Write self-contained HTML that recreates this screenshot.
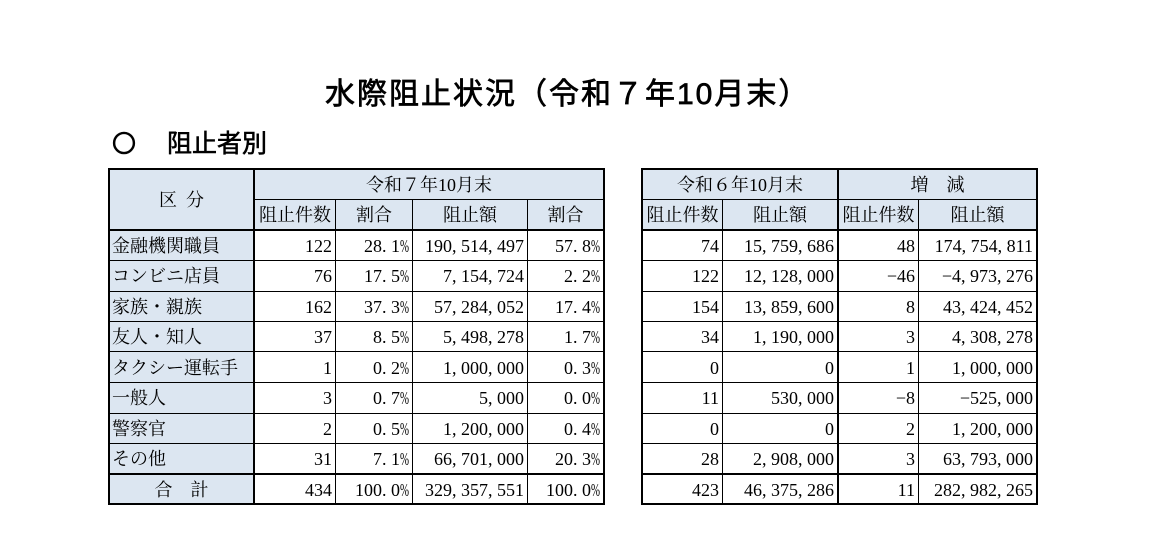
<!DOCTYPE html>
<html><head><meta charset="utf-8">
<style>
html,body{margin:0;padding:0}
body{width:1164px;height:537px;background:#fff;position:relative;overflow:hidden}
.bg{position:absolute;background:#dce6f1}
.k{position:absolute;background:#000}
.t{position:absolute;height:30px;line-height:30px;font-family:"Liberation Serif","Noto Serif CJK SC",serif;font-size:18px;color:#000;white-space:nowrap}
.r{text-align:right}
.c{text-align:center}
.l{text-align:left}
i{font-style:normal;display:inline-block;width:9px;text-align:left}
b{font-weight:normal;display:inline-block;width:9px;transform:scaleX(.6);transform-origin:left center}
.title{position:absolute;left:325px;top:80px;height:30px;line-height:30px;font-family:"Liberation Sans","Noto Sans CJK JP",sans-serif;font-size:30px;font-weight:normal;-webkit-text-stroke:0.7px #000;letter-spacing:2px;color:#000;white-space:nowrap}
.sub{position:absolute;top:132px;height:25px;line-height:25px;font-family:"Liberation Sans","Noto Sans CJK JP",sans-serif;font-size:25px;font-weight:normal;-webkit-text-stroke:0.6px #000;color:#000;white-space:nowrap}
</style></head><body>

<div class="title">水際阻止状況（令和７年10月末）</div>
<div class="sub" style="left:112px;font-size:24px">〇</div>
<div class="sub" style="left:167px">阻止者別</div>

<!-- backgrounds -->
<div class="bg" style="left:110px;top:170px;width:493px;height:59px"></div>
<div class="bg" style="left:110px;top:231px;width:143px;height:272px"></div>
<div class="bg" style="left:643px;top:170px;width:393px;height:59px"></div>

<!-- left table lines -->
<div class="k" style="left:108px;top:168px;width:497px;height:2px"></div>
<div class="k" style="left:253px;top:199px;width:352px;height:1px"></div>
<div class="k" style="left:108px;top:229px;width:497px;height:2px"></div>
<div class="k" style="left:108px;top:260px;width:497px;height:1px"></div>
<div class="k" style="left:108px;top:291px;width:497px;height:1px"></div>
<div class="k" style="left:108px;top:321px;width:497px;height:1px"></div>
<div class="k" style="left:108px;top:351px;width:497px;height:1px"></div>
<div class="k" style="left:108px;top:382px;width:497px;height:1px"></div>
<div class="k" style="left:108px;top:413px;width:497px;height:1px"></div>
<div class="k" style="left:108px;top:443px;width:497px;height:1px"></div>
<div class="k" style="left:108px;top:473px;width:497px;height:2px"></div>
<div class="k" style="left:108px;top:503px;width:497px;height:2px"></div>
<div class="k" style="left:108px;top:168px;width:2px;height:337px"></div>
<div class="k" style="left:253px;top:168px;width:2px;height:337px"></div>
<div class="k" style="left:335px;top:199px;width:1px;height:306px"></div>
<div class="k" style="left:412px;top:199px;width:1px;height:306px"></div>
<div class="k" style="left:527px;top:199px;width:1px;height:306px"></div>
<div class="k" style="left:603px;top:168px;width:2px;height:337px"></div>

<!-- right table lines -->
<div class="k" style="left:641px;top:168px;width:397px;height:2px"></div>
<div class="k" style="left:641px;top:199px;width:397px;height:1px"></div>
<div class="k" style="left:641px;top:229px;width:397px;height:2px"></div>
<div class="k" style="left:641px;top:260px;width:397px;height:1px"></div>
<div class="k" style="left:641px;top:291px;width:397px;height:1px"></div>
<div class="k" style="left:641px;top:321px;width:397px;height:1px"></div>
<div class="k" style="left:641px;top:351px;width:397px;height:1px"></div>
<div class="k" style="left:641px;top:382px;width:397px;height:1px"></div>
<div class="k" style="left:641px;top:413px;width:397px;height:1px"></div>
<div class="k" style="left:641px;top:443px;width:397px;height:1px"></div>
<div class="k" style="left:641px;top:473px;width:397px;height:2px"></div>
<div class="k" style="left:641px;top:503px;width:397px;height:2px"></div>
<div class="k" style="left:641px;top:168px;width:2px;height:337px"></div>
<div class="k" style="left:722px;top:199px;width:1px;height:306px"></div>
<div class="k" style="left:837px;top:168px;width:2px;height:337px"></div>
<div class="k" style="left:918px;top:199px;width:1px;height:306px"></div>
<div class="k" style="left:1036px;top:168px;width:2px;height:337px"></div>

<!-- headers -->
<div class="t c" style="left:110px;width:143px;top:185px">区<i> </i>分</div>
<div class="t c" style="left:255px;width:348px;top:170px">令和７年10月末</div>
<div class="t c" style="left:643px;width:194px;top:170px">令和６年10月末</div>
<div class="t c" style="left:839px;width:197px;top:170px">増　減</div>

<div class="t c" style="left:255px;width:80px;top:200px">阻止件数</div>
<div class="t c" style="left:336px;width:76px;top:200px">割合</div>
<div class="t c" style="left:413px;width:114px;top:200px">阻止額</div>
<div class="t c" style="left:528px;width:75px;top:200px">割合</div>
<div class="t c" style="left:643px;width:79px;top:200px">阻止件数</div>
<div class="t c" style="left:723px;width:114px;top:200px">阻止額</div>
<div class="t c" style="left:839px;width:79px;top:200px">阻止件数</div>
<div class="t c" style="left:919px;width:117px;top:200px">阻止額</div>

<!-- row labels -->
<div class="t l" style="left:112px;top:231px">金融機関職員</div>
<div class="t l" style="left:112px;top:261px">コンビニ店員</div>
<div class="t l" style="left:112px;top:292px">家族・親族</div>
<div class="t l" style="left:112px;top:322px">友人・知人</div>
<div class="t l" style="left:112px;top:353px">タクシー運転手</div>
<div class="t l" style="left:112px;top:383px">一般人</div>
<div class="t l" style="left:112px;top:414px">警察官</div>
<div class="t l" style="left:112px;top:444px">その他</div>
<div class="t c" style="left:110px;width:143px;top:475px">合　計</div>

<!-- row 1 -->
<div class="t r" style="left:255px;width:77px;top:231px">122</div>
<div class="t r" style="left:336px;width:73px;top:231px">28<i>.</i>1<b>%</b></div>
<div class="t r" style="left:413px;width:111px;top:231px">190<i>,</i>514<i>,</i>497</div>
<div class="t r" style="left:528px;width:72px;top:231px">57<i>.</i>8<b>%</b></div>
<div class="t r" style="left:643px;width:76px;top:231px">74</div>
<div class="t r" style="left:723px;width:111px;top:231px">15<i>,</i>759<i>,</i>686</div>
<div class="t r" style="left:839px;width:76px;top:231px">48</div>
<div class="t r" style="left:919px;width:114px;top:231px">174<i>,</i>754<i>,</i>811</div>

<!-- row 2 -->
<div class="t r" style="left:255px;width:77px;top:261px">76</div>
<div class="t r" style="left:336px;width:73px;top:261px">17<i>.</i>5<b>%</b></div>
<div class="t r" style="left:413px;width:111px;top:261px">7<i>,</i>154<i>,</i>724</div>
<div class="t r" style="left:528px;width:72px;top:261px">2<i>.</i>2<b>%</b></div>
<div class="t r" style="left:643px;width:76px;top:261px">122</div>
<div class="t r" style="left:723px;width:111px;top:261px">12<i>,</i>128<i>,</i>000</div>
<div class="t r" style="left:839px;width:76px;top:261px">−46</div>
<div class="t r" style="left:919px;width:114px;top:261px">−4<i>,</i>973<i>,</i>276</div>

<!-- row 3 -->
<div class="t r" style="left:255px;width:77px;top:292px">162</div>
<div class="t r" style="left:336px;width:73px;top:292px">37<i>.</i>3<b>%</b></div>
<div class="t r" style="left:413px;width:111px;top:292px">57<i>,</i>284<i>,</i>052</div>
<div class="t r" style="left:528px;width:72px;top:292px">17<i>.</i>4<b>%</b></div>
<div class="t r" style="left:643px;width:76px;top:292px">154</div>
<div class="t r" style="left:723px;width:111px;top:292px">13<i>,</i>859<i>,</i>600</div>
<div class="t r" style="left:839px;width:76px;top:292px">8</div>
<div class="t r" style="left:919px;width:114px;top:292px">43<i>,</i>424<i>,</i>452</div>

<!-- row 4 -->
<div class="t r" style="left:255px;width:77px;top:322px">37</div>
<div class="t r" style="left:336px;width:73px;top:322px">8<i>.</i>5<b>%</b></div>
<div class="t r" style="left:413px;width:111px;top:322px">5<i>,</i>498<i>,</i>278</div>
<div class="t r" style="left:528px;width:72px;top:322px">1<i>.</i>7<b>%</b></div>
<div class="t r" style="left:643px;width:76px;top:322px">34</div>
<div class="t r" style="left:723px;width:111px;top:322px">1<i>,</i>190<i>,</i>000</div>
<div class="t r" style="left:839px;width:76px;top:322px">3</div>
<div class="t r" style="left:919px;width:114px;top:322px">4<i>,</i>308<i>,</i>278</div>

<!-- row 5 -->
<div class="t r" style="left:255px;width:77px;top:353px">1</div>
<div class="t r" style="left:336px;width:73px;top:353px">0<i>.</i>2<b>%</b></div>
<div class="t r" style="left:413px;width:111px;top:353px">1<i>,</i>000<i>,</i>000</div>
<div class="t r" style="left:528px;width:72px;top:353px">0<i>.</i>3<b>%</b></div>
<div class="t r" style="left:643px;width:76px;top:353px">0</div>
<div class="t r" style="left:723px;width:111px;top:353px">0</div>
<div class="t r" style="left:839px;width:76px;top:353px">1</div>
<div class="t r" style="left:919px;width:114px;top:353px">1<i>,</i>000<i>,</i>000</div>

<!-- row 6 -->
<div class="t r" style="left:255px;width:77px;top:383px">3</div>
<div class="t r" style="left:336px;width:73px;top:383px">0<i>.</i>7<b>%</b></div>
<div class="t r" style="left:413px;width:111px;top:383px">5<i>,</i>000</div>
<div class="t r" style="left:528px;width:72px;top:383px">0<i>.</i>0<b>%</b></div>
<div class="t r" style="left:643px;width:76px;top:383px">11</div>
<div class="t r" style="left:723px;width:111px;top:383px">530<i>,</i>000</div>
<div class="t r" style="left:839px;width:76px;top:383px">−8</div>
<div class="t r" style="left:919px;width:114px;top:383px">−525<i>,</i>000</div>

<!-- row 7 -->
<div class="t r" style="left:255px;width:77px;top:414px">2</div>
<div class="t r" style="left:336px;width:73px;top:414px">0<i>.</i>5<b>%</b></div>
<div class="t r" style="left:413px;width:111px;top:414px">1<i>,</i>200<i>,</i>000</div>
<div class="t r" style="left:528px;width:72px;top:414px">0<i>.</i>4<b>%</b></div>
<div class="t r" style="left:643px;width:76px;top:414px">0</div>
<div class="t r" style="left:723px;width:111px;top:414px">0</div>
<div class="t r" style="left:839px;width:76px;top:414px">2</div>
<div class="t r" style="left:919px;width:114px;top:414px">1<i>,</i>200<i>,</i>000</div>

<!-- row 8 -->
<div class="t r" style="left:255px;width:77px;top:444px">31</div>
<div class="t r" style="left:336px;width:73px;top:444px">7<i>.</i>1<b>%</b></div>
<div class="t r" style="left:413px;width:111px;top:444px">66<i>,</i>701<i>,</i>000</div>
<div class="t r" style="left:528px;width:72px;top:444px">20<i>.</i>3<b>%</b></div>
<div class="t r" style="left:643px;width:76px;top:444px">28</div>
<div class="t r" style="left:723px;width:111px;top:444px">2<i>,</i>908<i>,</i>000</div>
<div class="t r" style="left:839px;width:76px;top:444px">3</div>
<div class="t r" style="left:919px;width:114px;top:444px">63<i>,</i>793<i>,</i>000</div>

<!-- total -->
<div class="t r" style="left:255px;width:77px;top:475px">434</div>
<div class="t r" style="left:336px;width:73px;top:475px">100<i>.</i>0<b>%</b></div>
<div class="t r" style="left:413px;width:111px;top:475px">329<i>,</i>357<i>,</i>551</div>
<div class="t r" style="left:528px;width:72px;top:475px">100<i>.</i>0<b>%</b></div>
<div class="t r" style="left:643px;width:76px;top:475px">423</div>
<div class="t r" style="left:723px;width:111px;top:475px">46<i>,</i>375<i>,</i>286</div>
<div class="t r" style="left:839px;width:76px;top:475px">11</div>
<div class="t r" style="left:919px;width:114px;top:475px">282<i>,</i>982<i>,</i>265</div>

</body></html>
